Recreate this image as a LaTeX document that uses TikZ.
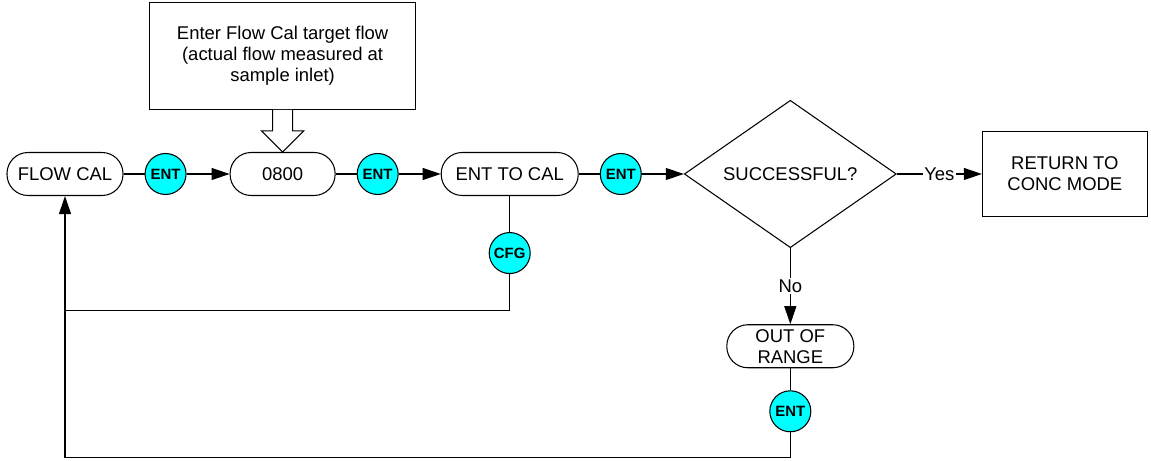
\documentclass[tikz,border=0pt]{standalone}
\usepackage{fontspec}
\setmainfont{Liberation Sans}
\usetikzlibrary{positioning, arrows.meta, shapes.geometric}

\definecolor{keycyan}{RGB}{0,255,255}

\begin{document}
\begin{tikzpicture}[
    font=\fontsize{10.5}{12}\selectfont,
    line width=0.6pt,
    pill/.style={
        rectangle,
        rounded corners=0.42cm,
        draw,
        align=center,
        minimum height=0.86cm,
        inner sep=0pt
    },
    keybtn/.style={
        circle,
        draw,
        fill=keycyan,
        minimum size=0.82cm,
        inner sep=0pt,
        font=\fontsize{8.5}{9}\selectfont\bfseries
    },
    block/.style={
        rectangle,
        draw,
        align=center,
        inner sep=0pt
    },
    decision/.style={
        diamond,
        draw,
        align=center,
        minimum width=4.24cm,
        minimum height=2.94cm,
        inner sep=0pt
    },
    arrow/.style={
        -{Triangle[length=0.36cm,width=0.24cm]}
    },
    tag/.style={
        fill=white,
        inner sep=1pt
    }
]

\useasboundingbox (0,0) rectangle (23.02,-9.22);

% ------------------------------------------------------------------
% MAIN ROW
% ------------------------------------------------------------------

\node[pill, minimum width=2.32cm] (flowcal) at (1.30,-3.48) {FLOW CAL};

\node[keybtn, right=0.42cm of flowcal] (entA) {ENT};

\node[pill, minimum width=2.1cm, right=0.86cm of entA] (setpoint) {0800};

\node[keybtn, right=0.42cm of setpoint] (entB) {ENT};

\node[pill, minimum width=2.74cm, right=0.84cm of entB] (entcal) {ENT TO CAL};

\node[keybtn, right=0.42cm of entcal] (entC) {ENT};

\node[decision, right=0.84cm of entC] (success) {SUCCESSFUL?};

\node[block, minimum width=3.3cm, minimum height=1.7cm,
      right=1.7cm of success] (concmode) {RETURN TO\\CONC MODE};

% ------------------------------------------------------------------
% NOTE AND SIDE BRANCHES
% ------------------------------------------------------------------

\node[block, minimum width=5.32cm, minimum height=2.14cm,
      above=0.84cm of setpoint] (note)
{Enter Flow Cal target flow\\(actual flow measured at\\sample inlet)};

\node[keybtn, below=0.72cm of entcal] (cfg) {CFG};
\coordinate[below=0.72cm of cfg] (cfgturn);

\node[pill, minimum width=2.54cm, below=1.52cm of success] (outrange)
{OUT OF\\RANGE};

\node[keybtn, below=0.44cm of outrange] (entD) {ENT};
\coordinate[below=0.5cm of entD] (outturn);

% ------------------------------------------------------------------
% CONNECTIONS
% ------------------------------------------------------------------

\draw (flowcal) -- (entA);
\draw[arrow] (entA) -- (setpoint);
\draw (setpoint) -- (entB);
\draw[arrow] (entB) -- (entcal);
\draw (entcal) -- (entC);
\draw[arrow] (entC) -- (success);

\draw[arrow] (success) -- node[tag] {Yes} (concmode);
\draw[arrow] (success) -- node[tag] {No} (outrange);

\draw (outrange) -- (entD);
\draw[arrow] (entD) -- (outturn) -| (flowcal);

\draw (entcal) -- (cfg);
\draw (cfg) -- (cfgturn) -- (flowcal.south |- cfgturn);

% hollow arrow from the note into the set point
\draw[fill=white, line join=miter]
    ([xshift=-0.2cm]note.south)
    -- ([xshift=-0.2cm, yshift=0.42cm]setpoint.north)
    -- ([xshift=-0.42cm, yshift=0.42cm]setpoint.north)
    -- (setpoint.north)
    -- ([xshift=0.42cm, yshift=0.42cm]setpoint.north)
    -- ([xshift=0.2cm, yshift=0.42cm]setpoint.north)
    -- ([xshift=0.2cm]note.south);

\end{tikzpicture}
\end{document}
